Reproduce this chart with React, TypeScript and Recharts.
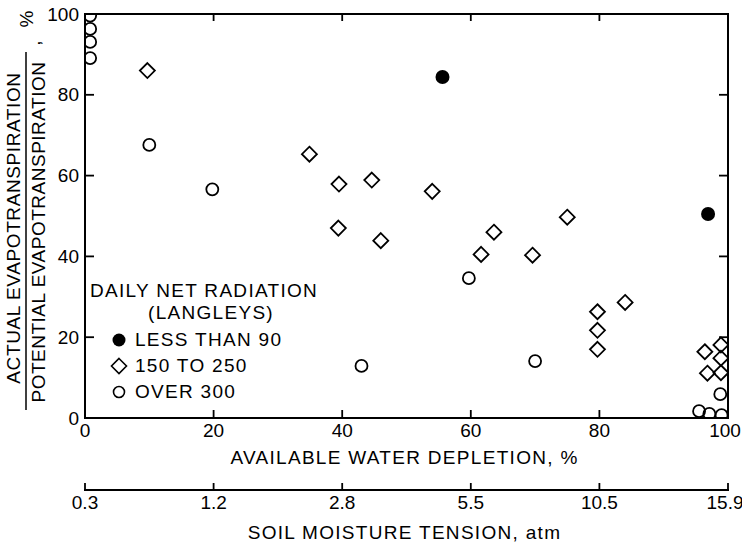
import React from "react";
import { ScatterChart, Scatter, XAxis, YAxis, Label, Legend } from "recharts";

const FONT = "'Liberation Sans', Arial, Helvetica, sans-serif";

// x = available water depletion (%), y = actual / potential evapotranspiration (%)
const lessThan90X = [55.6, 96.9];
const lessThan90Y = [84.4, 50.5];

const from150To250X = [9.7, 34.9, 39.5, 44.6, 54, 39.4, 46, 63.6, 61.6, 75, 69.6, 79.7, 79.7, 79.7, 84, 96.4, 96.8, 98.9, 98.9, 98.9];
const from150To250Y = [86, 65.3, 57.9, 58.9, 56.1, 47, 43.9, 46, 40.5, 49.7, 40.3, 26.3, 21.7, 17, 28.6, 16.4, 11.1, 18.1, 14.8, 11.2];

const over300X = [0.8, 0.8, 0.8, 0.8, 10, 19.8, 43, 59.7, 70, 95.5, 97.1, 99, 98.8];
const over300Y = [99.6, 96.3, 93.1, 89.1, 67.6, 56.6, 12.9, 34.6, 14.1, 1.7, 1, 0.7, 5.9];

const depletionTicks = [0, 20, 40, 60, 80, 100];
const ratioTicks = [0, 20, 40, 60, 80, 100];
const innerTicks = [20, 40, 60, 80];
const tensionLabels = ["0.3", "1.2", "2.8", "5.5", "10.5", "15.9"];

const legendTitle = ["DAILY NET RADIATION", "(LANGLEYS)"];
const seriesNames = ["LESS THAN 90", "150 TO 250", "OVER 300"];

const toPoints = (xs: number[], ys: number[]) => xs.map((x, i) => ({ x, y: ys[i] }));

const INK = "#000";

// ---- marker shapes ----
const FilledDot = (p: any) => <circle cx={p.cx} cy={p.cy} r={7} fill={INK} />;
const OpenCircle = (p: any) => (
  <circle cx={p.cx} cy={p.cy} r={6} fill="none" stroke={INK} strokeWidth={1.8} />
);
const OpenDiamond = (p: any) => {
  const h = 7.5;
  return (
    <polygon
      points={`${p.cx},${p.cy - h} ${p.cx + h},${p.cy} ${p.cx},${p.cy + h} ${p.cx - h},${p.cy}`}
      fill="none"
      stroke={INK}
      strokeWidth={1.8}
    />
  );
};
const NoMark = () => <g />;

// ---- ticks (all pointing into the plot) ----
const BottomTick = (p: any, text: string, len: number) => {
  const last = p.payload.value === 100;
  return (
    <g>
      <line x1={p.x} x2={p.x} y1={p.y} y2={p.y - len} stroke={INK} strokeWidth={1.8} />
      <text
        x={last ? p.x - 3 : p.x}
        y={p.y + 19}
        textAnchor="middle"
        fontFamily={FONT}
        fontSize={19}
        fill={INK}
      >
        {text}
      </text>
    </g>
  );
};

const LeftTick = (p: any) => (
  <g>
    <line x1={p.x} x2={p.x + 9} y1={p.y} y2={p.y} stroke={INK} strokeWidth={1.8} />
    <text x={p.x - 6} y={p.y} dy="0.35em" textAnchor="end" fontFamily={FONT} fontSize={19} fill={INK}>
      {p.payload.value}
    </text>
  </g>
);

const TopTick = (p: any) => (
  <line x1={p.x} x2={p.x} y1={p.y} y2={p.y + 7} stroke={INK} strokeWidth={1.8} />
);
const RightTick = (p: any) => (
  <line x1={p.x} x2={p.x - 9} y1={p.y} y2={p.y} stroke={INK} strokeWidth={1.8} />
);

const axisLine = { stroke: INK, strokeWidth: 2, strokeLinecap: "square" as const };

const YTitle = (props: any) => {
  const top = props.viewBox.y;
  return (
    <g fontFamily={FONT} fontSize={19} fill={INK}>
      <text transform={`translate(20,${top + 214}) rotate(-90)`} textAnchor="middle" letterSpacing={0.6}>
        ACTUAL EVAPOTRANSPIRATION
      </text>
      <line x1={26} x2={26} y1={top + 38} y2={top + 396} stroke={INK} strokeWidth={1.5} />
      <text transform={`translate(45,${top + 218}) rotate(-90)`} textAnchor="middle" letterSpacing={0.5}>
        POTENTIAL EVAPOTRANSPIRATION
      </text>
      <text transform={`translate(40,${top + 29}) rotate(-90)`} textAnchor="middle">
        ,
      </text>
      <text transform={`translate(33,${top + 5}) rotate(-90)`} textAnchor="middle">
        %
      </text>
    </g>
  );
};

const XTitle = (text: string, dy: number) => (props: any) => {
  const vb = props.viewBox;
  return (
    <text
      x={vb.x + vb.width / 2 - 2}
      y={vb.y + dy}
      textAnchor="middle"
      fontFamily={FONT}
      fontSize={19}
      letterSpacing={1.3}
      fill={INK}
    >
      {text}
    </text>
  );
};

const legendSymbol = (i: number) => {
  if (i === 0) return <circle cx={9} cy={9} r={6.5} fill={INK} />;
  if (i === 1)
    return <polygon points="9,1.5 16.5,9 9,16.5 1.5,9" fill="none" stroke={INK} strokeWidth={1.6} />;
  return <circle cx={9} cy={9} r={5.5} fill="none" stroke={INK} strokeWidth={1.6} />;
};

const LegendBox = () => (
  <div style={{ fontFamily: FONT, fontSize: 19, letterSpacing: 1.3, color: INK, whiteSpace: "nowrap" }}>
    <div style={{ lineHeight: "22px" }}>{legendTitle[0]}</div>
    <div style={{ lineHeight: "22px", paddingLeft: 58 }}>{legendTitle[1]}</div>
    <div style={{ marginTop: 3 }}>
      {seriesNames.map((name, i) => (
        <div key={name} style={{ display: "flex", alignItems: "center", height: 26 }}>
          <svg width={18} height={18} style={{ marginLeft: 20, marginRight: 7 }}>
            {legendSymbol(i)}
          </svg>
          <span>{name}</span>
        </div>
      ))}
    </div>
  </div>
);

export default function App() {
  const over300 = toPoints(over300X, over300Y);
  return (
    <div style={{ position: "absolute", left: 0, top: 0, width: 742, height: 543, background: "#fff" }}>
      <ScatterChart width={742} height={543} margin={{ top: 0, right: 0, bottom: 0, left: 0 }}>
        <XAxis
          xAxisId="top"
          orientation="top"
          dataKey="x"
          type="number"
          domain={[0, 100]}
          allowDataOverflow
          ticks={innerTicks}
          interval={0}
          height={14}
          axisLine={axisLine}
          tickLine={false}
          tickSize={0}
          tickMargin={0}
          tick={TopTick}
        />
        <XAxis
          xAxisId="pct"
          dataKey="x"
          type="number"
          domain={[0, 100]}
          allowDataOverflow
          ticks={depletionTicks}
          interval={0}
          height={72}
          axisLine={axisLine}
          tickLine={false}
          tickSize={0}
          tickMargin={0}
          tick={(p: any) => BottomTick(p, String(p.payload.value), 8)}
        >
          <Label content={XTitle("AVAILABLE WATER DEPLETION, %", 46)} />
        </XAxis>
        <XAxis
          xAxisId="tension"
          dataKey="x"
          type="number"
          domain={[0, 100]}
          allowDataOverflow
          ticks={depletionTicks}
          interval={0}
          height={53}
          axisLine={axisLine}
          tickLine={false}
          tickSize={0}
          tickMargin={0}
          tick={(p: any) => BottomTick(p, tensionLabels[depletionTicks.indexOf(p.payload.value)], 7)}
        >
          <Label content={XTitle("SOIL MOISTURE TENSION, atm", 49)} />
        </XAxis>
        <YAxis
          yAxisId="left"
          dataKey="y"
          type="number"
          domain={[0, 100]}
          allowDataOverflow
          ticks={ratioTicks}
          interval={0}
          width={85}
          axisLine={axisLine}
          tickLine={false}
          tickSize={0}
          tickMargin={0}
          tick={LeftTick}
        >
          <Label content={YTitle} />
        </YAxis>
        <YAxis
          yAxisId="right"
          orientation="right"
          dataKey="y"
          type="number"
          domain={[0, 100]}
          allowDataOverflow
          ticks={innerTicks}
          interval={0}
          width={14}
          axisLine={axisLine}
          tickLine={false}
          tickSize={0}
          tickMargin={0}
          tick={RightTick}
        />
        <Legend
          layout="vertical"
          align="center"
          verticalAlign="middle"
          content={() => <LegendBox />}
          wrapperStyle={{ left: 90, top: 280, right: "auto", bottom: "auto", width: 280 }}
        />
        <Scatter
          name={seriesNames[0]}
          xAxisId="pct"
          yAxisId="left"
          data={toPoints(lessThan90X, lessThan90Y)}
          shape={FilledDot}
          isAnimationActive={false}
        />
        <Scatter
          name={seriesNames[1]}
          xAxisId="pct"
          yAxisId="left"
          data={toPoints(from150To250X, from150To250Y)}
          shape={OpenDiamond}
          isAnimationActive={false}
        />
        <Scatter
          name={seriesNames[2]}
          xAxisId="pct"
          yAxisId="left"
          data={over300}
          shape={OpenCircle}
          isAnimationActive={false}
        />
        {/* invisible series so the frame axes (top, right, tension) get their ticks */}
        <Scatter
          xAxisId="top"
          yAxisId="right"
          data={over300}
          shape={NoMark}
          legendType="none"
          isAnimationActive={false}
        />
        <Scatter
          xAxisId="tension"
          yAxisId="left"
          data={over300}
          shape={NoMark}
          legendType="none"
          isAnimationActive={false}
        />
      </ScatterChart>
    </div>
  );
}
